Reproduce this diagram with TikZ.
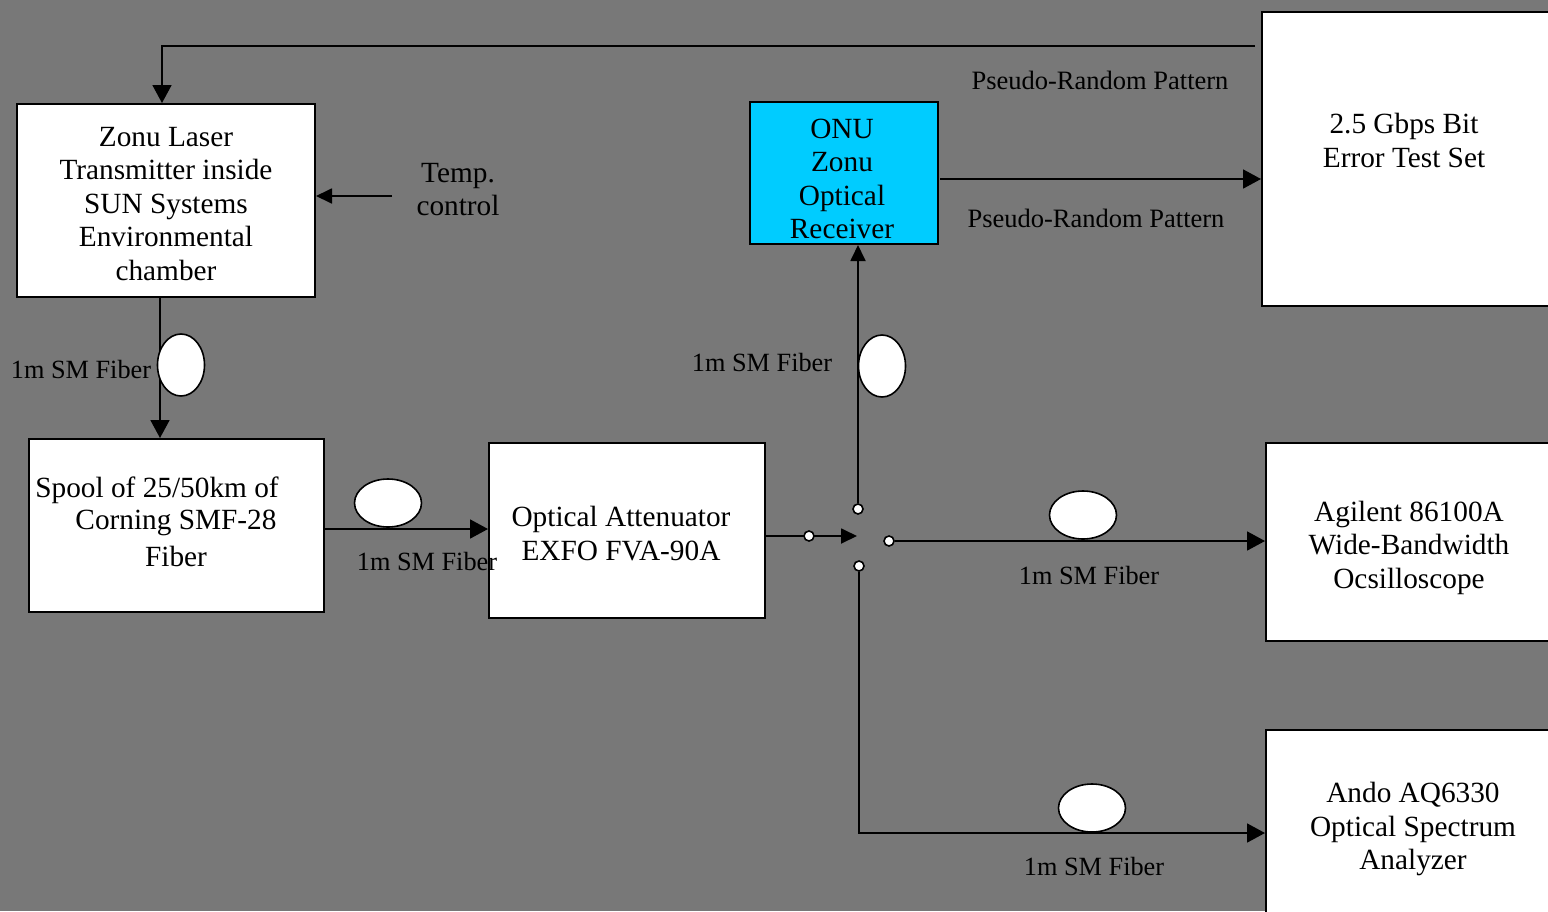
\documentclass[tikz,border=0pt]{standalone}
\usepackage{fontspec}
\setmainfont{Liberation Serif}
\usetikzlibrary{arrows.meta,shapes.geometric}
\definecolor{bg}{HTML}{787878}
\definecolor{onucyan}{HTML}{00CCFF}
\begin{document}
\begin{tikzpicture}[x=1pt,y=-1pt,
  box/.style={draw=black,line width=2pt,fill=white,inner sep=0pt,anchor=north west},
  boxtext/.style={align=center,font=\fontsize{29.3}{33.5}\selectfont,inner sep=0pt},
  lbl/.style={font=\fontsize{26.3}{30}\selectfont,inner sep=0pt},
  plbl/.style={font=\fontsize{26.5}{30}\selectfont,inner sep=0pt},
  wire/.style={draw=black,line width=1.8pt},
  tip/.style={-{Triangle[length=18pt,width=19pt]}},
  smalltip/.style={-{Triangle[length=16pt,width=15pt]}},
  fiber/.style={ellipse,draw=black,line width=1.6pt,fill=white,inner sep=0pt},
  port/.style={circle,draw=black,line width=1.6pt,fill=white,inner sep=0pt,minimum size=10pt}]
\fill[bg] (0,0) rectangle (1548,911);
\useasboundingbox (0,0) rectangle (1548,911);
\clip (0,0) rectangle (1548,911);

% boxes
\node[box,minimum width=298pt,minimum height=193pt] (zonu) at (16,103) {};
\node[box,minimum width=295pt,minimum height=173pt] (spool) at (28,438) {};
\node[box,minimum width=276pt,minimum height=175pt] (att) at (488,442) {};
\node[box,fill=onucyan,minimum width=188pt,minimum height=142pt] (onu) at (749,101) {};
\node[box,minimum width=300pt,minimum height=294pt] (bert) at (1261,11) {};
\node[box,minimum width=300pt,minimum height=198pt] (agil) at (1265,442) {};
\node[box,minimum width=300pt,minimum height=200pt] (ando) at (1265,729) {};

% box texts
\node[boxtext] (zonuT) at (166,204) {Zonu Laser\\Transmitter inside\\SUN Systems\\Environmental\\chamber};
\node[boxtext] (spoolT1) at (157,490) {Spool of 25/50km of};
\node[boxtext] (spoolT2) at (176,523) {Corning SMF-28};
\node[boxtext] (spoolT3) at (176,556) {Fiber};
\node[boxtext] (attT) at (621,533.5) {Optical Attenuator\\EXFO FVA-90A};
\node[boxtext] (onuT) at (842,179) {ONU\\Zonu\\Optical\\Receiver};
\node[boxtext] (bertT) at (1404,140.5) {2.5 Gbps Bit\\Error Test Set};
\node[boxtext] (agilT) at (1409,547.5) {Agilent 86100A\\Wide-Bandwidth\\Ocsilloscope};
\node[boxtext] (andoT) at (1413,829) {Ando AQ6330\\Optical Spectrum\\Analyzer};
\node[boxtext] (tempT) at (458,189.5) {Temp.\\control};

% labels
\node[lbl] (l1) at (81,369) {1m SM Fiber};
\node[lbl] (l2) at (427,561) {1m SM Fiber};
\node[lbl] (l3) at (762,362) {1m SM Fiber};
\node[lbl] (l4) at (1089,575) {1m SM Fiber};
\node[lbl] (l5) at (1094,866) {1m SM Fiber};
\node[plbl] (p1) at (1100,80) {Pseudo-Random Pattern};
\node[plbl] (p2) at (1096,218) {Pseudo-Random Pattern};

% feedback line
\coordinate (fb) at (1255,46);
\coordinate (fbx) at (162,46);
\draw[wire,tip] (fb) -- (fbx) -- (fbx |- zonu.north);

% temp control arrow
\coordinate (tc) at (392,196);
\draw[wire,smalltip] (tc) -- (tc -| zonu.east);

% zonu -> spool
\coordinate (fx) at (160,300);
\draw[wire,tip] (zonu.south -| fx) -- (spool.north -| fx);

% spool -> attenuator
\coordinate (sa) at (323,529);
\draw[wire,tip] (sa -| spool.east) -- (sa -| att.west);

% attenuator -> splitter
\coordinate (ao) at (764,536);
\coordinate (sp) at (857,536);
\draw[wire,smalltip] (ao -| att.east) -- (sp);
\node[port] (ac) at (809,536) {};

% splitter ports
\node[port] (pt) at (858,509) {};
\node[port] (pr) at (889,541) {};
\node[port] (pb) at (859,566) {};

\draw[wire,smalltip] (pt) -- (pt |- onu.south);
\draw[wire,tip] (pr) -- (pr -| agil.west);
\coordinate (bl) at (859,833);
\draw[wire,tip] (pb) -- (bl) -- (bl -| ando.west);

% onu -> bert
\coordinate (ob) at (940,179);
\draw[wire,tip] (ob) -- (ob -| bert.west);

% fiber loops
\node[fiber,minimum width=47pt,minimum height=62pt] (e1) at (181,365) {};
\node[fiber,minimum width=67pt,minimum height=48pt] (e2) at (388,503) {};
\node[fiber,minimum width=47pt,minimum height=62pt] (e3) at (882,366) {};
\node[fiber,minimum width=67pt,minimum height=48pt] (e4) at (1083,515) {};
\node[fiber,minimum width=67pt,minimum height=48pt] (e5) at (1092,808) {};
\end{tikzpicture}
\end{document}
